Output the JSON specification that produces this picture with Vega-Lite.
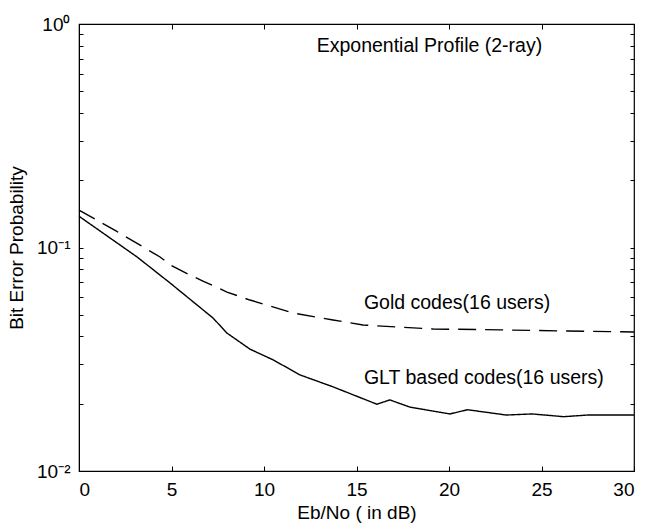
{
  "$schema": "https://vega.github.io/schema/vega-lite/v6.json",
  "width": 555,
  "height": 447,
  "autosize": {"type": "none"},
  "padding": {"left": 79, "top": 24, "right": 14, "bottom": 56},
  "background": "white",
  "config": {
    "view": {"stroke": "black", "strokeWidth": 1.2},
    "font": "Liberation Sans",
    "axis": {
      "domainColor": "black",
      "tickColor": "black",
      "labelColor": "black",
      "titleColor": "black",
      "labelFont": "Liberation Sans",
      "titleFont": "Liberation Sans",
      "labelFontSize": 19,
      "titleFontSize": 19,
      "titleFontWeight": "normal",
      "grid": false
    }
  },
  "datasets": {
    "curves": [
      {"snr": 0, "ber": 0.147, "series": "Gold"},
      {"snr": 2, "ber": 0.1186, "series": "Gold"},
      {"snr": 4.38, "ber": 0.0907, "series": "Gold"},
      {"snr": 5.03, "ber": 0.0827, "series": "Gold"},
      {"snr": 6.0, "ber": 0.0753, "series": "Gold"},
      {"snr": 6.7, "ber": 0.0708, "series": "Gold"},
      {"snr": 8.0, "ber": 0.0632, "series": "Gold"},
      {"snr": 9.24, "ber": 0.0582, "series": "Gold"},
      {"snr": 9.95, "ber": 0.0559, "series": "Gold"},
      {"snr": 11.57, "ber": 0.0509, "series": "Gold"},
      {"snr": 13.73, "ber": 0.0474, "series": "Gold"},
      {"snr": 15.35, "ber": 0.045, "series": "Gold"},
      {"snr": 17.19, "ber": 0.0441, "series": "Gold"},
      {"snr": 19.14, "ber": 0.0432, "series": "Gold"},
      {"snr": 22.76, "ber": 0.0428, "series": "Gold"},
      {"snr": 26.38, "ber": 0.0423, "series": "Gold"},
      {"snr": 30, "ber": 0.0419, "series": "Gold"},
      {"snr": 0, "ber": 0.138, "series": "GLT"},
      {"snr": 3.14, "ber": 0.0907, "series": "GLT"},
      {"snr": 4.92, "ber": 0.0694, "series": "GLT"},
      {"snr": 7.24, "ber": 0.0484, "series": "GLT"},
      {"snr": 8.0, "ber": 0.0414, "series": "GLT"},
      {"snr": 9.24, "ber": 0.0351, "series": "GLT"},
      {"snr": 10.5, "ber": 0.0314, "series": "GLT"},
      {"snr": 11.95, "ber": 0.0269, "series": "GLT"},
      {"snr": 13.73, "ber": 0.0238, "series": "GLT"},
      {"snr": 16.1, "ber": 0.0199, "series": "GLT"},
      {"snr": 16.8, "ber": 0.0208, "series": "GLT"},
      {"snr": 17.9, "ber": 0.0193, "series": "GLT"},
      {"snr": 20.05, "ber": 0.018, "series": "GLT"},
      {"snr": 21.0, "ber": 0.0188, "series": "GLT"},
      {"snr": 23.1, "ber": 0.0178, "series": "GLT"},
      {"snr": 24.5, "ber": 0.018, "series": "GLT"},
      {"snr": 26.2, "ber": 0.0175, "series": "GLT"},
      {"snr": 27.5, "ber": 0.0178, "series": "GLT"},
      {"snr": 30, "ber": 0.0178, "series": "GLT"}
    ],
    "notes": [
      {"snr": 12.85, "ber": 0.8, "label": "Exponential Profile (2-ray)"},
      {"snr": 15.4, "ber": 0.0565, "label": "Gold codes(16 users)"},
      {"snr": 15.4, "ber": 0.0261, "label": "GLT based codes(16 users)"}
    ]
  },
  "layer": [
    {
      "data": {"name": "curves"},
      "mark": {"type": "line", "color": "black", "strokeWidth": 1.4},
      "encoding": {
        "x": {
          "field": "snr", "type": "quantitative",
          "scale": {"domain": [0, 30], "nice": false, "zero": false},
          "axis": {
            "title": "Eb/No ( in dB)",
            "values": [0, 5, 10, 15, 20, 25, 30],
            "tickSize": -5,
            "labelPadding": 14,
            "titlePadding": 4
          }
        },
        "y": {
          "field": "ber", "type": "quantitative",
          "scale": {"type": "log", "domain": [0.01, 1], "nice": false},
          "axis": {
            "title": "Bit Error Probability",
            "values": [0.01, 0.02, 0.03, 0.04, 0.05, 0.06, 0.07, 0.08, 0.09, 0.1, 0.2, 0.3, 0.4, 0.5, 0.6, 0.7, 0.8, 0.9, 1],
            "labelExpr": "datum.value == 1 ? '10⁰' : (datum.value == 0.1 ? '10⁻¹' : (datum.value == 0.01 ? '10⁻²' : ''))",
            "tickSize": -4,
            "labelPadding": 13,
            "titlePadding": 10
          }
        },
        "detail": {"field": "series"},
        "strokeDash": {
          "field": "series", "type": "nominal",
          "scale": {"domain": ["GLT", "Gold"], "range": [[1, 0], [18, 9]]},
          "legend": null
        }
      }
    },
    {
      "data": {"name": "notes"},
      "mark": {"type": "text", "align": "left", "baseline": "middle", "fontSize": 19.5, "font": "Liberation Sans", "color": "black"},
      "encoding": {
        "x": {"field": "snr", "type": "quantitative", "axis": null},
        "y": {"field": "ber", "type": "quantitative", "axis": null},
        "text": {"field": "label"}
      }
    },
    {
      "data": {"name": "curves"},
      "mark": {"type": "point", "opacity": 0},
      "encoding": {
        "x": {
          "field": "snr", "type": "quantitative",
          "axis": {"orient": "top", "values": [0, 5, 10, 15, 20, 25, 30], "labels": false, "title": null, "tickSize": -5, "domain": false}
        },
        "y": {
          "field": "ber", "type": "quantitative",
          "axis": {"orient": "right", "values": [0.01, 0.02, 0.03, 0.04, 0.05, 0.06, 0.07, 0.08, 0.09, 0.1, 0.2, 0.3, 0.4, 0.5, 0.6, 0.7, 0.8, 0.9, 1], "labels": false, "title": null, "tickSize": -4, "domain": false}
        }
      }
    }
  ],
  "resolve": {"axis": {"x": "independent", "y": "independent"}}
}
